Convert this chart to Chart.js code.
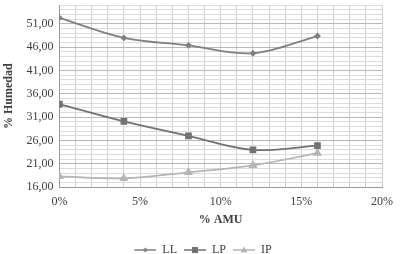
<!DOCTYPE html>
<html>
<head>
<meta charset="utf-8">
<script src="https://cdn.jsdelivr.net/npm/chart.js@4/dist/chart.umd.min.js"></script>
<style>
  html, body { margin: 0; padding: 0; background: #fff; }
  #wrap { width: 400px; height: 254px; }
</style>
</head>
<body>
<div id="wrap"><canvas id="c"></canvas></div>
<script>
  // data (x in % AMU)
  var amu = [0, 4, 8, 12, 16];
  var ll  = [52.3, 48.0, 46.4, 44.7, 48.4];
  var lp  = [33.8, 30.1, 27.0, 24.0, 24.9];
  var ip  = [18.3, 17.9, 19.2, 20.7, 23.3];
  var yTicks = [16, 21, 26, 31, 36, 41, 46, 51];
  var xTicks = [0, 5, 10, 15, 20];

  var font = '"Liberation Serif", "DejaVu Serif", serif';

  function pts(vals) {
    return vals.map(function(v, i) { return { x: amu[i], y: v }; });
  }

  // legend symbol: line with marker, left margin keeps items apart
  var ICON_W = 26, GAP = 4;
  function legendIcon(color, style, size) {
    var c = document.createElement('canvas');
    c.width = ICON_W; c.height = 10;
    var g = c.getContext('2d');
    var mid = GAP + (ICON_W - GAP) / 2;
    g.strokeStyle = color; g.fillStyle = color; g.lineWidth = 1.5;
    g.beginPath(); g.moveTo(GAP, 5); g.lineTo(ICON_W, 5); g.stroke();
    g.beginPath();
    if (style === 'rect') {
      g.fillRect(mid - size, 5 - size, size * 2, size * 2);
    } else if (style === 'triangle') {
      g.moveTo(mid, 5 - size - 1); g.lineTo(mid + size + 1, 5 + size); g.lineTo(mid - size - 1, 5 + size); g.closePath(); g.fill();
    } else {
      g.moveTo(mid, 5 - size); g.lineTo(mid + size, 5); g.lineTo(mid, 5 + size); g.lineTo(mid - size, 5); g.closePath(); g.fill();
    }
    return c;
  }

  var series = [
    { label: 'LL', data: ll, color: '#808080', style: 'rectRot', r: 2.2 },
    { label: 'LP', data: lp, color: '#727272', style: 'rect', r: 3.5 },
    { label: 'IP', data: ip, color: '#b5b5b5', style: 'triangle', r: 3.5 }
  ];

  new Chart(document.getElementById('c'), {
    type: 'line',
    data: {
      datasets: series.map(function(s) {
        return {
          label: s.label,
          data: pts(s.data),
          borderColor: s.color,
          backgroundColor: s.color,
          borderWidth: 1.75,
          tension: 0.35,
          pointStyle: s.style,
          pointRadius: s.r,
          pointHoverRadius: s.r,
          legendIcon: legendIcon(s.color, s.style === 'rectRot' ? 'diamond' : s.style, s.style === 'rect' ? 3 : 2.5)
        };
      })
    },
    options: {
      responsive: true,
      maintainAspectRatio: false,
      animation: false,
      layout: { padding: { top: 2, right: 0, left: 2, bottom: -12 } },
      plugins: {
        tooltip: { enabled: false },
        legend: {
          position: 'bottom',
          labels: {
            usePointStyle: true,
            pointStyleWidth: ICON_W,
            boxHeight: 10,
            padding: 3,
            color: '#404040',
            font: { family: font, size: 12 },
            generateLabels: function(chart) {
              return chart.data.datasets.map(function(d, i) {
                return {
                  text: d.label,
                  pointStyle: d.legendIcon,
                  fillStyle: d.borderColor,
                  strokeStyle: d.borderColor,
                  fontColor: '#404040',
                  lineWidth: 0,
                  datasetIndex: i
                };
              });
            }
          }
        }
      },
      scales: {
        x: {
          type: 'linear',
          min: 0,
          max: 20,
          ticks: {
            stepSize: 1,
            autoSkip: false,
            maxTicksLimit: 50,
            maxRotation: 0,
            color: '#404040',
            font: { family: font, size: 12 },
            padding: 7,
            callback: function(v) { return xTicks.indexOf(v) >= 0 ? v + '%' : ''; }
          },
          grid: {
            color: '#d0d0d0',
            drawTicks: false
          },
          border: { color: '#999999' },
          title: {
            display: true,
            text: '% AMU',
            color: '#404040',
            font: { family: font, size: 12, weight: 'bold' },
            padding: { top: -3, bottom: 14 }
          }
        },
        y: {
          min: 16,
          max: 55,
          afterFit: function(scale) { scale.paddingTop = 0; },
          ticks: {
            stepSize: 1,
            autoSkip: false,
            maxTicksLimit: 100,
            color: '#404040',
            font: { family: font, size: 12 },
            padding: 6,
            callback: function(v) { return yTicks.indexOf(v) >= 0 ? v.toFixed(2).replace('.', ',') : ''; }
          },
          grid: {
            color: function(ctx) {
              var v = ctx.tick && ctx.tick.value;
              return yTicks.indexOf(v) >= 0 ? '#b8b8b8' : '#dcdcdc';
            },
            drawTicks: false
          },
          border: { color: '#999999' },
          title: {
            display: true,
            text: '% Humedad',
            color: '#404040',
            font: { family: font, size: 12, weight: 'bold' },
            padding: { top: 0, bottom: 4 }
          }
        }
      }
    }
  });
</script>
</body>
</html>
